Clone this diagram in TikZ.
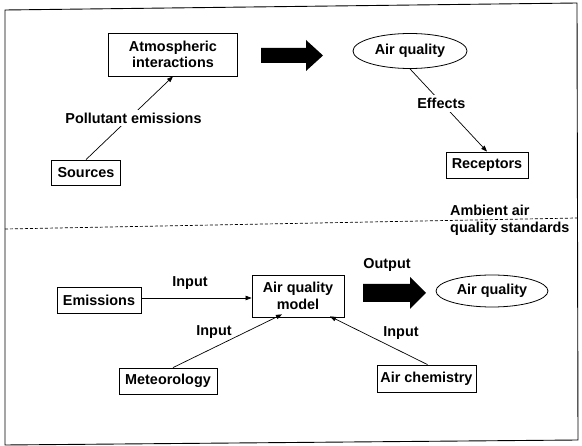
\documentclass[tikz,border=0pt]{standalone}
\usepackage{fontspec}
\setmainfont{Liberation Sans}
\usetikzlibrary{shapes.geometric,arrows.meta}
\begin{document}
\begin{tikzpicture}[x=1pt,y=-1pt,
  every node/.style={font=\fontsize{14.4}{16.5}\selectfont\bfseries, inner sep=0pt},
  box/.style={draw, line width=0.8pt, align=center},
  oval/.style={draw, ellipse, line width=0.8pt},
  lbl/.style={fill=white, inner sep=3pt},
  conn/.style={line width=0.7pt},
  arr/.style={conn, -{Triangle[length=6pt,width=4.5pt]}},
  blockarrow/.style={fill=black}]
\useasboundingbox (0,0) rectangle (582,446);
% frame
\draw[line width=0.9pt] (5,10) -- (577,3) -- (578,440) -- (5,445) -- cycle;
% dashed divider
\draw[dashed, line width=0.7pt, dash pattern=on 3pt off 2pt] (5,229) -- (577,218);
% top half
\node[box, minimum width=129pt, minimum height=43pt] (atm) at (173,54.5) {Atmospheric\\interactions};
\node[box, minimum width=69pt, minimum height=25pt] (src) at (86,172.5) {Sources};
\node[oval, minimum width=114pt, minimum height=35pt] (aq1) at (410,51) {Air quality};
\node[box, minimum width=82pt, minimum height=26pt] (rec) at (487,165) {Receptors};
\draw[arr] (src.north) -- node[lbl, pos=0.5, xshift=4pt] {Pollutant emissions} (atm.south);
\draw[arr] (aq1.south) -- node[lbl, pos=0.42, xshift=-1pt] {Effects} (rec.north);
\fill[blockarrow] (261,48) -- (306,48) -- (306,40) -- (323,55.5) -- (306,71) -- (306,63) -- (261,63) -- cycle;
\node[align=left, anchor=north west] (amb) at (450,205) {Ambient air\\quality standards};
% bottom half
\node[box, minimum width=84pt, minimum height=26pt] (emi) at (99,300) {Emissions};
\node[box, minimum width=92pt, minimum height=42pt] (mod) at (298,296) {Air quality\\model};
\node[box, minimum width=98pt, minimum height=26pt] (met) at (168,381) {Meteorology};
\node[box, minimum width=99pt, minimum height=27pt] (chem) at (426.5,378.5) {Air chemistry};
\node[oval, minimum width=112pt, minimum height=32pt] (aq2) at (492,291) {Air quality};
\draw[arr] (emi.east |- 0,298) -- (mod.west |- 0,298);
\node (in1) at (190,283) {Input};
\draw[arr] ([xshift=5pt]met.north) -- ([xshift=-16pt,yshift=3pt]mod.south);
\node (in2) at (214,332) {Input};
\draw[arr] ([xshift=1pt]chem.north) -- ([xshift=32pt,yshift=1pt]mod.south);
\node (in3) at (401,333) {Input};
\node (out) at (387,265) {Output};
\fill[blockarrow] (363,284) -- (410,284) -- (410,277) -- (426,293) -- (410,309) -- (410,302) -- (363,302) -- cycle;
\end{tikzpicture}
\end{document}
